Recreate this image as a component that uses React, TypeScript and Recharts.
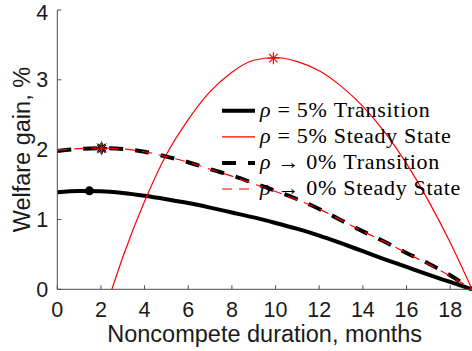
import { ComposedChart, Line, Scatter, XAxis, YAxis, Legend, Label } from 'recharts'

// x values (months) and welfare gains (%)
const months = [0, 1, 2, 3, 4, 5, 6, 7, 8, 9, 10, 11, 12, 13, 14, 15, 16, 17, 18, 19]
const transition5 = [1.39, 1.408, 1.404, 1.38, 1.34, 1.29, 1.235, 1.17, 1.1, 1.03, 0.95, 0.865, 0.77, 0.66, 0.545, 0.43, 0.32, 0.21, 0.105, 0]
const transition0 = [1.98, 2.01, 2.02, 2.01, 1.97, 1.9, 1.82, 1.72, 1.63, 1.52, 1.41, 1.29, 1.15, 0.99, 0.83, 0.68, 0.52, 0.37, 0.2, 0]
const steady0 = [1.99, 2.015, 2.025, 2.01, 1.97, 1.9, 1.82, 1.72, 1.62, 1.51, 1.4, 1.28, 1.15, 0.99, 0.83, 0.68, 0.52, 0.36, 0.19, 0]

const steady5Months = [2.5, 3, 4, 5, 6, 7, 8, 9, 10, 11, 12, 13, 14, 15, 16, 17, 18, 19]
const steady5 = [0, 0.46, 1.26, 1.93, 2.43, 2.83, 3.11, 3.28, 3.32, 3.26, 3.13, 2.91, 2.62, 2.25, 1.8, 1.27, 0.67, 0]

// optimal durations (markers)
const optTransition5 = [{ month: 1.47, gain: 1.41 }]
const optSteady5 = [{ month: 9.9, gain: 3.31 }]
const optRho0 = [{ month: 2.03, gain: 2.02 }]

const xTicks = [0, 2, 4, 6, 8, 10, 12, 14, 16, 18]
const yTicks = [0, 1, 2, 3, 4]

const series = [
  { name: 'ρ = 5% Transition', color: '#000', width: 4, dash: undefined as string | undefined },
  { name: 'ρ = 5% Steady State', color: '#ff0000', width: 1.2, dash: undefined as string | undefined },
  { name: 'ρ → 0% Transition', color: '#000', width: 4, dash: '14 12' },
  { name: 'ρ → 0% Steady State', color: '#ff0000', width: 1.2, dash: '10 7' },
]

const toRows = (xs: number[], ys: number[]) => xs.map((m, i) => ({ month: m, gain: ys[i] }))

const AXIS = '#4d4d4d'
const SANS = '"Liberation Sans", Arial, sans-serif'
const SERIF = '"Liberation Serif", "Times New Roman", serif'

function Asterisk({ cx, cy, color, w, r }: { cx: number; cy: number; color: string; w: number; r: number }) {
  const d = r * 0.7071
  return (
    <g stroke={color} strokeWidth={w} strokeLinecap="butt">
      <line x1={cx - r} y1={cy} x2={cx + r} y2={cy} />
      <line x1={cx} y1={cy - r} x2={cx} y2={cy + r} />
      <line x1={cx - d} y1={cy - d} x2={cx + d} y2={cy + d} />
      <line x1={cx - d} y1={cy + d} x2={cx + d} y2={cy - d} />
    </g>
  )
}

function renderLegend() {
  const step = 26.1
  return (
    <svg width={250} height={110} style={{ display: 'block' }}>
      {series.map((s, i) => {
        const y = 13.7 + i * step
        return (
          <g key={s.name}>
            <line x1={1} x2={34} y1={y} y2={y} stroke={s.color} strokeWidth={s.width} strokeDasharray={s.dash} />
            <text x={39} y={y + 6} fontFamily={SERIF} fontSize={22} letterSpacing={0.7} fill="#000">
              <tspan fontStyle="italic">{s.name[0]}</tspan>
              <tspan>{s.name.slice(1)}</tspan>
            </text>
          </g>
        )
      })}
    </svg>
  )
}

export default function App() {
  return (
    <div style={{ position: 'absolute', left: 0, top: 0 }}>
      <ComposedChart width={472} height={351} margin={{ top: 10, right: 0, bottom: 0, left: 0 }}>
        <XAxis
          type="number"
          dataKey="month"
          domain={[0, 19]}
          ticks={xTicks}
          height={61.7}
          tickSize={-4}
          tickMargin={16}
          axisLine={{ stroke: AXIS }}
          tickLine={{ stroke: AXIS }}
          tick={{ fontSize: 21.5, fill: '#1a1a1a', fontFamily: SANS }}
        >
          <Label
            content={({ viewBox }: any) => (
              <text x={viewBox.x + viewBox.width / 2} y={341.7} textAnchor="middle" fontSize={23.5} fontFamily={SANS} fill="#1a1a1a">
                Noncompete duration, months
              </text>
            )}
          />
        </XAxis>
        <XAxis
          xAxisId="top"
          orientation="top"
          type="number"
          dataKey="month"
          domain={[0, 19]}
          ticks={xTicks}
          height={0}
          tick={false}
          tickSize={-4}
          axisLine={{ stroke: AXIS }}
          tickLine={{ stroke: AXIS }}
        />
        <YAxis
          type="number"
          domain={[0, 4]}
          ticks={yTicks}
          width={57.3}
          tickSize={-4}
          tickMargin={13}
          axisLine={{ stroke: AXIS }}
          tickLine={{ stroke: AXIS }}
          tick={{ fontSize: 21.5, fill: '#1a1a1a', fontFamily: SANS }}
        >
          <Label
            content={({ viewBox }: any) => {
              const cx = 21.7
              const cy = viewBox.y + viewBox.height / 2
              return (
                <text
                  x={cx}
                  y={cy}
                  dy="0.36em"
                  textAnchor="middle"
                  transform={`rotate(-90, ${cx}, ${cy})`}
                  fontSize={23.5}
                  fontFamily={SANS}
                  fill="#1a1a1a"
                >
                  Welfare gain, %
                </text>
              )
            }}
          />
        </YAxis>
        <YAxis
          yAxisId="right"
          orientation="right"
          type="number"
          domain={[0, 4]}
          ticks={yTicks}
          width={0}
          tick={false}
          tickSize={-4}
          axisLine={{ stroke: AXIS }}
          tickLine={{ stroke: AXIS }}
        />

        <Line data={toRows(months, transition5)} dataKey="gain" name={series[0].name} type="monotone"
          stroke={series[0].color} strokeWidth={series[0].width} dot={false} isAnimationActive={false} />
        <Line data={toRows(steady5Months, steady5)} dataKey="gain" name={series[1].name} type="monotone"
          stroke={series[1].color} strokeWidth={series[1].width} dot={false} isAnimationActive={false} />
        <Line data={toRows(months, transition0)} dataKey="gain" name={series[2].name} type="monotone"
          stroke={series[2].color} strokeWidth={series[2].width} strokeDasharray={series[2].dash} dot={false} isAnimationActive={false} />
        <Line data={toRows(months, steady0)} dataKey="gain" name={series[3].name} type="monotone"
          stroke={series[3].color} strokeWidth={series[3].width} strokeDasharray={series[3].dash} dot={false} isAnimationActive={false} />

        <Scatter data={optTransition5} dataKey="gain" legendType="none" isAnimationActive={false}
          shape={(p: any) => <circle cx={p.cx} cy={p.cy} r={4.5} fill="#000" />} />
        <Scatter data={optSteady5} dataKey="gain" legendType="none" isAnimationActive={false}
          shape={(p: any) => <Asterisk cx={p.cx} cy={p.cy} color="#ff0000" w={1.2} r={6} />} />
        <Scatter data={optRho0} dataKey="gain" legendType="none" isAnimationActive={false}
          shape={(p: any) => (
            <g>
              <Asterisk cx={p.cx} cy={p.cy} color="#000" w={2.5} r={5.5} />
              <Asterisk cx={p.cx} cy={p.cy} color="#ff0000" w={1} r={7} />
            </g>
          )} />

        <Legend
          content={renderLegend}
          layout="vertical"
          verticalAlign="middle"
          align="center"
          wrapperStyle={{ left: 221, top: 97, width: 250 }}
        />
      </ComposedChart>
    </div>
  )
}
